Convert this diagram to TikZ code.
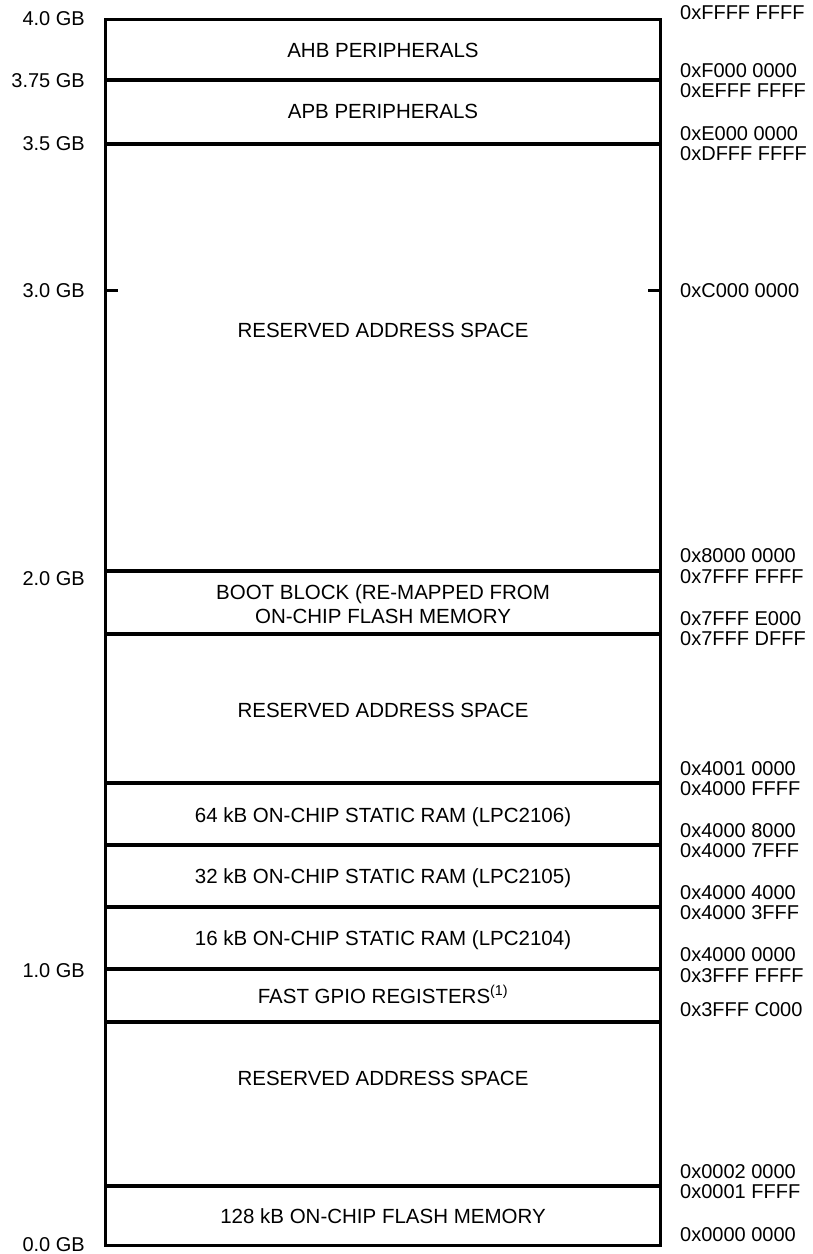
\documentclass[tikz,border=0pt]{standalone}
\usepackage{fontspec}
\setmainfont{Liberation Sans}
\begin{document}
\begin{tikzpicture}[x=1pt,y=-1pt,
  gb/.style={anchor=east,inner sep=0pt,text height=14.3pt,text depth=0pt,font=\fontsize{20}{24}\selectfont},
  addr/.style={anchor=west,inner sep=0pt,text height=14.3pt,text depth=0pt,font=\fontsize{20}{24}\selectfont},
  area/.style={inner sep=0pt,text height=14.7pt,text depth=0pt},
  divider/.style={line width=3.6pt},
  font=\fontsize{20.5}{24}\selectfont]
\useasboundingbox (0,0) rectangle (813,1254);
% outline of the memory map
\draw[line width=3pt] (105.5,19) rectangle (660.5,1245);
\draw[divider] (105.5,80) -- (660.5,80);
\draw[divider] (105.5,144) -- (660.5,144);
\draw[divider] (105.5,571) -- (660.5,571);
\draw[divider] (105.5,634) -- (660.5,634);
\draw[divider] (105.5,783) -- (660.5,783);
\draw[divider] (105.5,845) -- (660.5,845);
\draw[divider] (105.5,907) -- (660.5,907);
\draw[divider] (105.5,969) -- (660.5,969);
\draw[divider] (105.5,1022) -- (660.5,1022);
\draw[divider] (105.5,1186) -- (660.5,1186);
% 3.0 GB ticks
\draw[line width=3pt] (105.5,290) -- (118,290);
\draw[line width=3pt] (648,290) -- (660.5,290);
% sizes on the left
\node[gb] (g40) at (85,18) {4.0 GB};
\node[gb] (g375) at (85,80) {3.75 GB};
\node[gb] (g35) at (85,143) {3.5 GB};
\node[gb] (g30) at (85,290) {3.0 GB};
\node[gb] (g20) at (85,578) {2.0 GB};
\node[gb] (g10) at (85,970) {1.0 GB};
\node[gb] (g00) at (85,1244) {0.0 GB};
% regions
\node[area] (ahb) at (383,50) {AHB PERIPHERALS};
\node[area] (apb) at (383,111) {APB PERIPHERALS};
\node[area] (res1) at (383,330) {RESERVED ADDRESS SPACE};
\node[area] (boot1) at (383,592) {BOOT BLOCK (RE-MAPPED FROM};
\node[area] (boot2) at (383,616) {ON-CHIP FLASH MEMORY};
\node[area] (res2) at (383,710) {RESERVED ADDRESS SPACE};
\node[area] (ram64) at (383,815) {64 kB ON-CHIP STATIC RAM (LPC2106)};
\node[area] (ram32) at (383,876) {32 kB ON-CHIP STATIC RAM (LPC2105)};
\node[area] (ram16) at (383,938) {16 kB ON-CHIP STATIC RAM (LPC2104)};
\node[area] (gpio) at (383,996) {FAST GPIO REGISTERS\textsuperscript{(1)}};
\node[area] (res3) at (383,1078) {RESERVED ADDRESS SPACE};
\node[area] (flash) at (383,1216) {128 kB ON-CHIP FLASH MEMORY};
% addresses on the right
\node[addr] (a1) at (680,12) {0xFFFF FFFF};
\node[addr] (a2) at (680,70) {0xF000 0000};
\node[addr] (a3) at (680,90) {0xEFFF FFFF};
\node[addr] (a4) at (680,133) {0xE000 0000};
\node[addr] (a5) at (680,153) {0xDFFF FFFF};
\node[addr] (a6) at (680,290) {0xC000 0000};
\node[addr] (a7) at (680,555) {0x8000 0000};
\node[addr] (a8) at (680,576) {0x7FFF FFFF};
\node[addr] (a9) at (680,618) {0x7FFF E000};
\node[addr] (a10) at (680,638) {0x7FFF DFFF};
\node[addr] (a11) at (680,768) {0x4001 0000};
\node[addr] (a12) at (680,788) {0x4000 FFFF};
\node[addr] (a13) at (680,830) {0x4000 8000};
\node[addr] (a14) at (680,850) {0x4000 7FFF};
\node[addr] (a15) at (680,892) {0x4000 4000};
\node[addr] (a16) at (680,912) {0x4000 3FFF};
\node[addr] (a17) at (680,954) {0x4000 0000};
\node[addr] (a18) at (680,975) {0x3FFF FFFF};
\node[addr] (a19) at (680,1009) {0x3FFF C000};
\node[addr] (a20) at (680,1171) {0x0002 0000};
\node[addr] (a21) at (680,1191) {0x0001 FFFF};
\node[addr] (a22) at (680,1234) {0x0000 0000};
\end{tikzpicture}
\end{document}
